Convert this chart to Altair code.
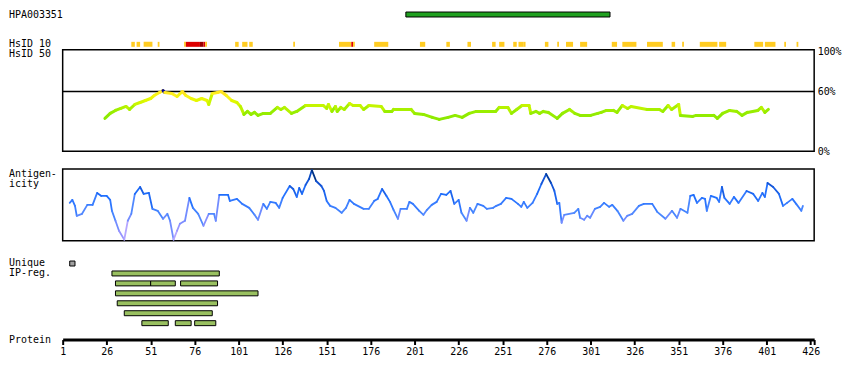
import altair as alt
import pandas as pd

FONT = "DejaVu Sans Mono"

# ---------------- data ----------------
antigen_name = "HPA003351"
antigen_start = [196]
antigen_end = [312]

hsid10_start = [40, 43, 47, 55, 70, 71, 79, 81, 82, 99, 103, 107, 132, 158, 165, 166, 178, 204, 219,
                231, 245, 249, 257, 260, 263, 275, 282, 287, 295, 313, 319, 333, 347, 353, 363, 374,
                394, 400, 411, 418]
hsid10_end = [42, 45, 52, 56, 71, 79, 81, 82, 83, 101, 106, 109, 133, 165, 166, 167, 186, 207, 221,
              233, 247, 252, 259, 263, 264, 277, 283, 291, 299, 316, 327, 342, 349, 354, 373, 378,
              399, 406, 412, 419]
hsid10_level = ["low", "low", "low", "low", "low", "high", "top", "high", "low", "low", "low", "low",
                "low", "low", "high", "low", "low", "low", "low", "low", "low", "low", "low", "low",
                "low", "low", "low", "low", "low", "low", "low", "low", "low", "low", "low", "low",
                "low", "low", "low", "low"]

hsid50_points = [
    (25, 33), (28, 38), (31, 41), (34, 43), (37, 45), (39, 42), (42, 47), (45, 49), (48, 51),
    (51, 53), (53, 56), (56, 59), (58, 61), (59, 59), (63, 58), (66, 55), (69, 60), (71, 56),
    (74, 53), (77, 51), (80, 53), (83, 51), (84, 47), (86, 58), (89, 59), (91, 60), (94, 56),
    (97, 51), (100, 49), (102, 45), (104, 37), (106, 40), (108, 37), (110, 39), (112, 36),
    (115, 38), (119, 38), (123, 44), (125, 42), (127, 44), (131, 38), (134, 40), (139, 46),
    (149, 46), (151, 43), (152, 47), (154, 40), (156, 45), (157, 40), (159, 44), (161, 42),
    (164, 48), (166, 46), (170, 46), (172, 42), (175, 46), (182, 45), (184, 40), (188, 40),
    (189, 42), (199, 42), (201, 38), (206, 37), (211, 34), (215, 32), (220, 34), (224, 36),
    (228, 34), (232, 38), (236, 40), (247, 40), (249, 44), (254, 44), (256, 38), (259, 42),
    (262, 46), (266, 46), (267, 38), (270, 40), (272, 38), (274, 40), (277, 39), (282, 33),
    (285, 38), (289, 42), (292, 38), (295, 36), (301, 36), (305, 38), (307, 39), (310, 41),
    (314, 41), (316, 39), (319, 46), (322, 43), (324, 45), (333, 42), (340, 42), (342, 40),
    (345, 46), (347, 42), (351, 47), (352, 36), (359, 35), (361, 36), (371, 36), (373, 33),
    (376, 38), (380, 41), (384, 40), (387, 36), (390, 39), (396, 41), (398, 44), (400, 39),
    (402, 42),
]

antigenicity_points = [
    (5, 38), (6.5, 41), (8, 35), (9, 25), (12, 27), (15, 36), (18, 36), (20.6, 48), (23, 45),
    (26, 45), (28, 41), (29, 30), (31, 20), (33, 10), (36, 1), (38, 20), (40, 27), (42, 47),
    (45, 54), (47, 47), (50, 48), (52, 32), (55, 30), (58, 22), (60.5, 27), (62, 20), (64, 1),
    (66, 10), (67.6, 17), (70.5, 20), (73, 43), (75, 33), (78, 27), (81, 15), (84, 27), (87, 27),
    (88, 20), (90, 46), (95, 46), (96, 40), (100, 42), (103, 37), (107, 33), (110, 26), (112, 21),
    (115, 37), (117, 32), (119, 39), (122, 38), (124, 33), (126, 43), (130, 55), (132, 52),
    (134, 44), (135.4, 53), (137, 47), (139, 56), (141, 62), (142.6, 71), (145, 60), (148, 55),
    (149.5, 50), (151, 40), (153, 35), (156, 33), (159.5, 28), (162, 33), (164, 41), (166.5, 37),
    (172, 32), (175, 32), (178, 40), (180, 42), (182.5, 52), (185, 45), (187, 39), (189, 31),
    (191.5, 22), (193, 32), (196.6, 32), (198, 39), (200, 37), (203.6, 30), (206, 26), (208, 31),
    (210.7, 36), (213.5, 39), (216, 47), (219, 46), (221.4, 50), (223.5, 37), (226, 41),
    (227.6, 28), (230.5, 20), (232.4, 33), (234.3, 28), (236.7, 37), (240, 35), (242, 32),
    (245.6, 33), (247.4, 35), (250, 37), (253, 43), (256, 42), (259.7, 37), (261.6, 34), (263, 39),
    (265, 33), (268, 38), (270.6, 47), (273, 57), (275.7, 67), (278.5, 58), (280.4, 50), (282, 37),
    (283.2, 38), (284.5, 18), (286, 26), (291.7, 28), (294, 32), (295, 23), (297.3, 21), (299, 25),
    (300.7, 23), (303.4, 32), (306.4, 34), (308.6, 38), (311.5, 34), (313.3, 36), (316.2, 30),
    (319.6, 20), (321.8, 25), (324.6, 27), (328.4, 35), (331.2, 37), (336, 37), (338.8, 29),
    (343.5, 22), (347.2, 30), (350.1, 23), (352, 32), (356, 28), (357.6, 45), (359.5, 46),
    (361.4, 38), (364.2, 43), (366, 42), (367, 30), (369.3, 45), (372.6, 43), (374, 39),
    (375.6, 54), (377, 43), (380, 37), (382.4, 44), (385, 38), (389.6, 50), (393.4, 47),
    (396.2, 40), (398.6, 48), (400, 44), (401.5, 58), (404.7, 54), (408, 47), (410.3, 35),
    (412.6, 38), (415.6, 42), (417.8, 37), (420.7, 30), (421.6, 35),
]

unique_row = [0]
unique_start = [5]
unique_end = [8]

ipreg_row = [1, 2, 2, 2, 3, 4, 5, 6, 6, 6]
ipreg_start = [29, 31, 51, 68, 31, 32, 36, 46, 65, 76]
ipreg_end = [90, 51, 65, 89, 112, 89, 86, 61, 74, 88]

tick_values = [1, 26, 51, 76, 101, 126, 151, 176, 201, 226, 251, 276, 301, 326, 351, 376, 401, 426]
protein_end = 428
pct_ticks = [0, 60, 100]

# ---------------- tables ----------------
df_antigen = pd.DataFrame({"start": antigen_start, "end": antigen_end})
df10 = pd.DataFrame({"start": hsid10_start, "end": hsid10_end, "level": hsid10_level})
df50 = pd.DataFrame(hsid50_points, columns=["pos", "val"])
dfag = pd.DataFrame(antigenicity_points, columns=["pos", "val"])
dfu = pd.DataFrame({"row": unique_row, "start": unique_start, "end": unique_end})
dfip = pd.DataFrame({"row": ipreg_row, "start": ipreg_start, "end": ipreg_end})

W = 756
xs = alt.Scale(domain=[1, protein_end], nice=False, zero=False)
LX = -54


def label(text, y):
    return alt.Chart(pd.DataFrame({"t": [text]})).mark_text(
        align="left", baseline="middle", font=FONT, fontSize=10, color="black"
    ).encode(text="t:N", x=alt.value(LX), y=alt.value(y))


# ---- top track: antigen + HsID 10 ----
hpa_bar = alt.Chart(df_antigen).mark_rect(fill="#20a020", stroke="black", strokeWidth=1).encode(
    x=alt.X("start:Q", scale=xs, axis=None), x2="end:Q",
    y=alt.value(2), y2=alt.value(7),
)
h10 = alt.Chart(df10).mark_rect().encode(
    x=alt.X("start:Q", scale=xs, axis=None), x2="end:Q",
    y=alt.value(32), y2=alt.value(37),
    color=alt.Color("level:N", scale=alt.Scale(domain=["low", "high", "top"],
                                               range=["#ffcc22", "#dd0000", "#990000"]), legend=None),
)
p_top = alt.layer(hpa_bar, h10, label(antigen_name, 4.7), label("HsID 10", 34.5)).properties(
    width=W, height=22)

# ---- HsID 50 panel ----
pct_axis = alt.Axis(orient="right", values=pct_ticks, labelExpr="datum.value + '%'", domain=False,
                    ticks=False, grid=False, title=None, labelFont=FONT, labelFontSize=10,
                    labelColor="black", labelPadding=3, labelFlush=False, labelBaseline="middle")
ys50 = alt.Scale(domain=[0, 102], nice=False, zero=False)
rule60 = alt.Chart(pd.DataFrame({"v": [60]})).mark_rule(color="black", strokeWidth=1.5).encode(
    y=alt.Y("v:Q", scale=ys50, axis=pct_axis))
hs_line = alt.Chart(df50).transform_window(
    nx="lead(pos)", ny="lead(val)", sort=[alt.SortField("pos")]
).transform_filter("datum.nx != null").mark_rule(strokeWidth=3, strokeCap="round").encode(
    x=alt.X("pos:Q", scale=xs, axis=None), x2="nx:Q",
    y=alt.Y("val:Q", scale=ys50, axis=pct_axis), y2="ny:Q",
    color=alt.Color("val:Q", scale=alt.Scale(
        domain=[30, 40, 46, 52, 58, 60.4, 60.6],
        range=["#88e800", "#99ee00", "#c4f500", "#e8f800", "#fff020", "#ffe020", "#ff0000"]),
        legend=None),
)
p50 = alt.layer(rule60, hs_line, label("HsID 50", 4.7)).properties(
    width=W, height=102, view=alt.ViewBackground(stroke="black", strokeWidth=1.5))

# ---- Antigenicity panel ----
ag_line = alt.Chart(dfag).transform_window(
    nx="lead(pos)", ny="lead(val)", sort=[alt.SortField("pos")]
).transform_filter("datum.nx != null").mark_rule(strokeWidth=1.8, strokeCap="round").encode(
    x=alt.X("pos:Q", scale=xs, axis=None), x2="nx:Q",
    y=alt.Y("val:Q", scale=alt.Scale(domain=[0, 72], nice=False, zero=False), axis=None), y2="ny:Q",
    color=alt.Color("val:Q", scale=alt.Scale(
        domain=[0, 12, 28, 45, 60, 72],
        range=["#b8a8ff", "#9090ff", "#4a88ff", "#2070ff", "#1050d0", "#003080"]), legend=None),
)
pag = alt.layer(ag_line, label("Antigen-", 5), label("icity", 15.5)).properties(
    width=W, height=72, view=alt.ViewBackground(stroke="black", strokeWidth=1.5))

# ---- Unique / IP-reg + protein axis ----
ys_rows = alt.Scale(domain=list(range(8)), paddingInner=0.5, paddingOuter=0.25)
x_axis = alt.Axis(values=tick_values + [protein_end],
                  labelExpr=f"datum.value == {protein_end} ? '' : datum.label",
                  domainColor="black", domainWidth=3, tickColor="black", tickWidth=2, tickSize=5,
                  labelFont=FONT, labelFontSize=10, labelColor="black", labelPadding=2,
                  labelFlush=False, labelOverlap=False, grid=False, title=None, offset=1.5)
uniq = alt.Chart(dfu).mark_rect(fill="#a0a0a0", stroke="black", strokeWidth=1).encode(
    x=alt.X("start:Q", scale=xs, axis=x_axis), x2="end:Q",
    y=alt.Y("row:O", scale=ys_rows, axis=None),
)
ipr = alt.Chart(dfip).mark_rect(fill="#99c060", stroke="black", strokeWidth=1).encode(
    x=alt.X("start:Q", scale=xs, axis=x_axis), x2="end:Q",
    y=alt.Y("row:O", scale=ys_rows, axis=None),
)
pip = alt.layer(uniq, ipr, label("Unique", 4.5), label("IP-reg.", 15), label("Protein", 81.7)).properties(
    width=W, height=80)

chart = alt.vconcat(p_top, p50, pag, pip, spacing=18, bounds="flush").resolve_scale(
    y="independent", color="independent"
).configure_view(stroke="transparent").properties(
    padding={"left": 0, "top": 0, "right": 0, "bottom": 0}, background="white"
)

chart.save("out.html", embed_options={"renderer": "svg", "actions": False})
